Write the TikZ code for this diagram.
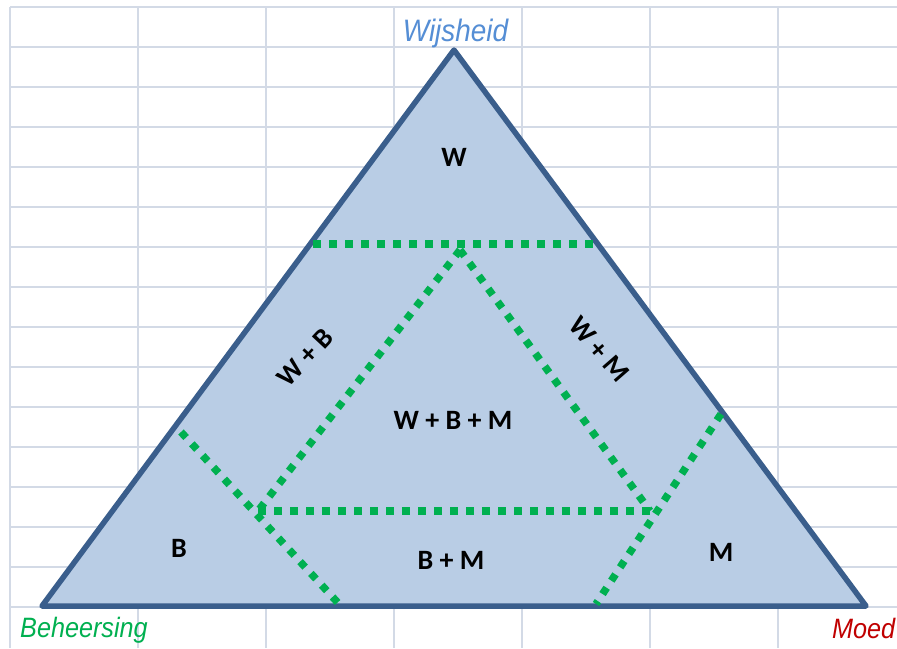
\documentclass[tikz,border=0pt]{standalone}
\usepackage{fontspec}
\newfontfamily\lblfont{Carlito}
\newfontfamily\cornerfont[FakeStretch=0.9]{Liberation Sans}
\definecolor{gridc}{HTML}{D3DAE6}
\definecolor{trifill}{HTML}{B9CDE5}
\definecolor{triline}{HTML}{3A5E8C}
\definecolor{dotgreen}{HTML}{00B050}
\definecolor{wisblue}{HTML}{558ED5}
\definecolor{moedred}{HTML}{C00000}
\tikzset{
  gridline/.style={draw=gridc, line width=2pt},
  tri/.style={draw=triline, fill=trifill, line width=5.5pt, line join=round},
  dotline/.style={draw=dotgreen, line width=7.5pt, dash pattern=on 7.5pt off 8.5pt},
  zone/.style={font=\lblfont\bfseries\fontsize{28}{30}\selectfont, inner sep=0pt, text=black},
  corner/.style={font=\cornerfont\itshape\fontsize{28}{30}\selectfont, inner sep=0pt, anchor=base west}
}
\begin{document}
\begin{tikzpicture}[x=1pt,y=-1pt]
\useasboundingbox (0,0) rectangle (897,648);
\fill[white] (0,0) rectangle (897,648);
% grid
\foreach \gx in {10,138,266,394,522,650,778}
  \draw[gridline] (\gx,7) -- (\gx,648);
\foreach \k in {0,...,15}
  \draw[gridline] (10,7+40*\k) -- (897,7+40*\k);
% triangle
\coordinate (A) at (454,50);
\coordinate (L) at (42,606);
\coordinate (R) at (866,606);
\draw[tri] (A) -- (L) -- (R) -- cycle;
% dotted division lines
\coordinate (t1) at (313,244);
\coordinate (t2) at (594,244);
\coordinate (ia) at (460,250);
\coordinate (il) at (258,511);
\coordinate (ir) at (650,511);
\coordinate (b1) at (181,432);
\coordinate (b2) at (339,604);
\coordinate (m1) at (721,414);
\coordinate (m2) at (596,604);
\draw[dotline] (t1) -- (t2);
\draw[dotline] (ia) -- (il);
\draw[dotline] (ia) -- (ir);
\draw[dotline] (il) -- (ir);
\draw[dotline] (b1) -- (b2);
\draw[dotline] (m1) -- (m2);
% zone labels
\node[zone] (zw) at (454,157) {W};
\node[zone] (zwbm) at (453,420) {W + B + M};
\node[zone, rotate=47] (zwb) at (305,358) {W + B};
\node[zone, rotate=-49] (zwm) at (599,349) {W + M};
\node[zone] (zb) at (179,548) {B};
\node[zone] (zbm) at (451,560) {B + M};
\node[zone] (zm) at (721,552) {M};
% corner labels
\node[corner, text=wisblue, anchor=base, font=\cornerfont\itshape\fontsize{31}{33}\selectfont] (wis) at (455.5,41) {Wijsheid};
\node[corner, text=dotgreen] (beh) at (20,637) {Beheersing};
\node[corner, text=moedred] (moed) at (832,638) {Moed};
\end{tikzpicture}
\end{document}
